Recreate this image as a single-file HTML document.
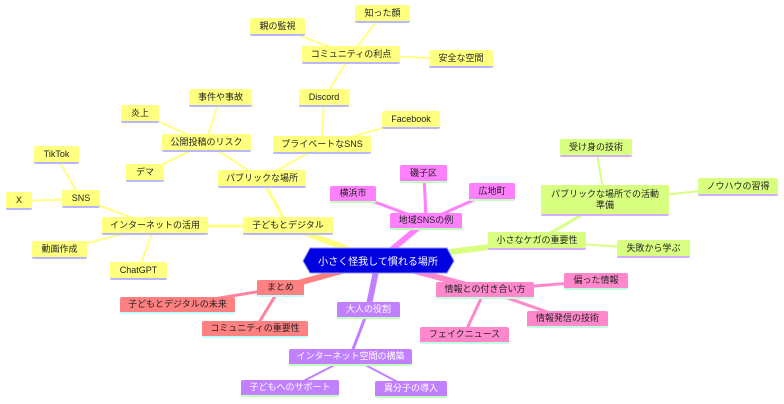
<!DOCTYPE html>
<html><head><meta charset="utf-8"><style>
body{margin:0;width:784px;height:404px;background:#fff;position:relative;overflow:hidden;font-family:"Liberation Sans","Noto Sans CJK JP",sans-serif;}
.n{position:absolute;box-sizing:border-box;font-size:9px;display:flex;align-items:center;justify-content:center;text-align:center;border-radius:2px;color:#222;line-height:11px;white-space:nowrap}
.y{background:#ffff80;border-bottom:2px solid #b8b8ff}
.p{background:#ff80ff;border-bottom:2px solid #c0ffc0}
.g{background:#d8ff80;border-bottom:2px solid #d0b0ff}
.s{background:#ff8080;border-bottom:2px solid #c0ffff}
.k{background:#ff88cc;border-bottom:2px solid #c0ffe0}
.u{background:#c080ff;border-bottom:2px solid #c0ffc0;color:#fff}
svg{position:absolute;left:0;top:0}
</style></head><body>
<svg width="784" height="404">
<g stroke-linecap="round" fill="none">
<g stroke="#ffff80" stroke-width="2">
<line x1="382" y1="14" x2="351" y2="55"/><line x1="277" y1="27" x2="351" y2="55"/><line x1="461" y1="59" x2="351" y2="55"/>
<line x1="351" y1="55" x2="324" y2="98"/><line x1="324" y1="98" x2="322" y2="145"/><line x1="411" y1="120" x2="322" y2="145"/>
<line x1="322" y1="145" x2="262" y2="179"/><line x1="220" y1="97" x2="206" y2="143"/><line x1="140" y1="113" x2="206" y2="143"/>
<line x1="145" y1="173" x2="206" y2="143"/><line x1="206" y1="143" x2="262" y2="179"/>
<line x1="56" y1="155" x2="81" y2="199"/><line x1="19" y1="201" x2="81" y2="199"/><line x1="81" y1="199" x2="155" y2="226"/>
<line x1="59" y1="250" x2="155" y2="226"/><line x1="138" y1="271" x2="155" y2="226"/>
</g>
<g stroke="#ffff80" stroke-width="3"><line x1="155" y1="226" x2="288" y2="226"/><line x1="262" y1="179" x2="288" y2="226"/></g>
<line x1="288" y1="226" x2="378" y2="261" stroke="#ffff80" stroke-width="6"/>
<g stroke="#ff80ff" stroke-width="3"><line x1="353" y1="194" x2="426" y2="221"/><line x1="424" y1="174" x2="426" y2="221"/><line x1="492" y1="192" x2="426" y2="221"/></g>
<line x1="426" y1="221" x2="378" y2="261" stroke="#ff80ff" stroke-width="6"/>
<g stroke="#d8ff80" stroke-width="2"><line x1="596" y1="148" x2="605" y2="201"/><line x1="738" y1="187" x2="605" y2="201"/><line x1="653" y1="249" x2="537" y2="241"/></g>
<line x1="605" y1="201" x2="537" y2="241" stroke="#d8ff80" stroke-width="3"/>
<line x1="537" y1="241" x2="378" y2="261" stroke="#d8ff80" stroke-width="6"/>
<g stroke="#ff80a0" stroke-width="3"><line x1="177" y1="305" x2="280" y2="288"/><line x1="255" y1="329" x2="280" y2="288"/></g>
<line x1="280" y1="288" x2="378" y2="261" stroke="#ff8080" stroke-width="6"/>
<g stroke="#ff88cc" stroke-width="3"><line x1="596" y1="281" x2="485" y2="290"/><line x1="567" y1="319" x2="485" y2="290"/><line x1="464" y1="335" x2="485" y2="290"/></g>
<line x1="485" y1="290" x2="378" y2="261" stroke="#ff88cc" stroke-width="6"/>
<g stroke="#c080ff" stroke-width="2"><line x1="290" y1="388" x2="350" y2="357"/><line x1="411" y1="389" x2="350" y2="357"/></g>
<line x1="368" y1="310" x2="350" y2="357" stroke="#c080ff" stroke-width="3"/>
<line x1="368" y1="310" x2="378" y2="261" stroke="#c080ff" stroke-width="6"/>
</g>
<polygon points="303,261 310,248 447,248 454,261 447,273 310,273" fill="#0000e0" stroke="#9090ff" stroke-width="1"/>
<text x="378" y="265" fill="#fff" font-size="10" text-anchor="middle" font-family="Liberation Sans, Noto Sans CJK JP, sans-serif">小さく怪我して慣れる場所</text>
</svg>
<div class="n y" style="left:355px;top:5px;width:55px;height:18px">知った顔</div>
<div class="n y" style="left:250px;top:18px;width:55px;height:18px">親の監視</div>
<div class="n y" style="left:302px;top:46px;width:98px;height:18px">コミュニティの利点</div>
<div class="n y" style="left:429px;top:50px;width:64px;height:18px">安全な空間</div>
<div class="n y" style="left:299px;top:89px;width:50px;height:18px">Discord</div>
<div class="n y" style="left:382px;top:111px;width:58px;height:18px">Facebook</div>
<div class="n y" style="left:273px;top:136px;width:98px;height:18px">プライベートなSNS</div>
<div class="n y" style="left:189px;top:89px;width:63px;height:18px">事件や事故</div>
<div class="n y" style="left:121px;top:105px;width:38px;height:18px">炎上</div>
<div class="n y" style="left:162px;top:134px;width:89px;height:18px">公開投稿のリスク</div>
<div class="n y" style="left:126px;top:164px;width:38px;height:18px">デマ</div>
<div class="n y" style="left:218px;top:170px;width:88px;height:18px">パブリックな場所</div>
<div class="n y" style="left:34px;top:146px;width:45px;height:18px">TikTok</div>
<div class="n y" style="left:62px;top:190px;width:38px;height:18px">SNS</div>
<div class="n y" style="left:6px;top:192px;width:26px;height:18px">X</div>
<div class="n y" style="left:102px;top:217px;width:106px;height:18px">インターネットの活用</div>
<div class="n y" style="left:243px;top:217px;width:90px;height:18px">子どもとデジタル</div>
<div class="n y" style="left:32px;top:241px;width:55px;height:18px">動画作成</div>
<div class="n y" style="left:110px;top:262px;width:57px;height:18px">ChatGPT</div>
<div class="n p" style="left:330px;top:186px;width:46px;height:17px">横浜市</div>
<div class="n p" style="left:400px;top:165px;width:47px;height:18px">磯子区</div>
<div class="n p" style="left:469px;top:183px;width:46px;height:18px">広地町</div>
<div class="n p" style="left:390px;top:213px;width:72px;height:17px">地域SNSの例</div>
<div class="n g" style="left:560px;top:139px;width:72px;height:18px">受け身の技術</div>
<div class="n g" style="left:541px;top:185px;width:128px;height:31px;white-space:normal;padding:0 8px">パブリックな場所での活動準備</div>
<div class="n g" style="left:698px;top:178px;width:80px;height:18px">ノウハウの習得</div>
<div class="n g" style="left:488px;top:232px;width:98px;height:18px">小さなケガの重要性</div>
<div class="n g" style="left:617px;top:240px;width:73px;height:18px">失敗から学ぶ</div>
<div class="n s" style="left:257px;top:280px;width:47px;height:17px">まとめ</div>
<div class="n s" style="left:120px;top:297px;width:115px;height:17px">子どもとデジタルの未来</div>
<div class="n s" style="left:202px;top:321px;width:106px;height:17px">コミュニティの重要性</div>
<div class="n k" style="left:436px;top:282px;width:98px;height:17px">情報との付き合い方</div>
<div class="n k" style="left:564px;top:273px;width:64px;height:17px">偏った情報</div>
<div class="n k" style="left:527px;top:311px;width:81px;height:17px">情報発信の技術</div>
<div class="n k" style="left:420px;top:327px;width:89px;height:17px">フェイクニュース</div>
<div class="n u" style="left:337px;top:302px;width:63px;height:17px">大人の役割</div>
<div class="n u" style="left:289px;top:349px;width:123px;height:17px">インターネット空間の構築</div>
<div class="n u" style="left:241px;top:380px;width:98px;height:17px">子どもへのサポート</div>
<div class="n u" style="left:375px;top:381px;width:72px;height:17px">異分子の導入</div>
</body></html>
